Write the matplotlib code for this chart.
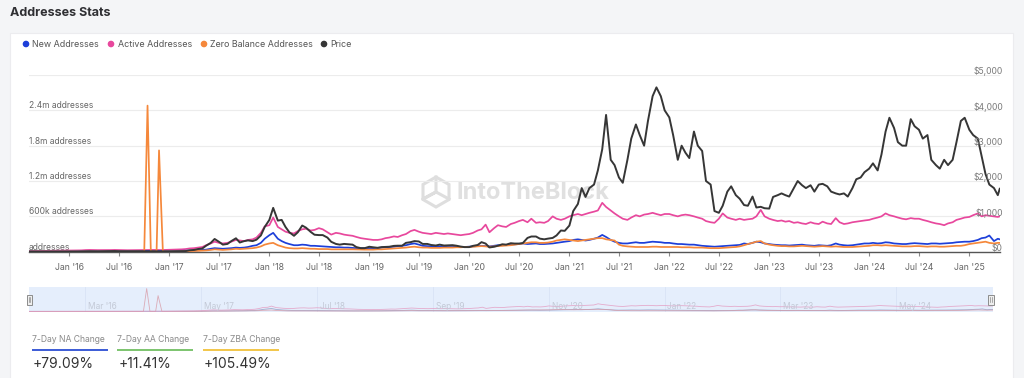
import matplotlib
matplotlib.use("Agg")
import matplotlib.pyplot as plt
import matplotlib.transforms as mtransforms
from matplotlib.patches import Rectangle, Circle, RegularPolygon
import pandas as pd

plt.rcParams['font.family'] = ['Inter', 'DejaVu Sans']

# semi-monthly samples (1st and 15th) from Aug 2015 to Apr 2025, plus the last day shown
dates = list(pd.date_range('2015-08-01', '2025-04-15', freq='SMS')) + [pd.Timestamp('2025-04-22')]

# ETH price, USD (right axis)
price_usd = [
    2.8, 1.4, 1.2, 0.9, 0.7, 0.6, 0.9, 1.0, 0.9, 0.9,  # 2015
    0.95, 1.3, 2.3, 4.5, 7.5, 11, 8, 8, 10, 13, 14, 18, 12, 11, 10, 11, 12, 13, 12, 11, 10, 10, 8, 8,
    8, 10, 11, 12, 17, 40, 50, 75, 90, 170, 250, 360, 280, 200, 220, 300, 380, 260, 300, 320, 300, 340, 460, 700,
    900, 1240, 880, 900, 700, 550, 450, 550, 740, 680, 560, 480, 470, 470, 400, 280, 220, 200, 220, 210, 200, 130, 100, 100,
    140, 125, 110, 130, 135, 140, 165, 170, 170, 250, 270, 300, 290, 220, 220, 190, 175, 200, 175, 180, 185, 170, 145, 130,
    130, 165, 190, 270, 230, 120, 140, 170, 210, 200, 240, 230, 230, 245, 390, 430, 430, 370, 350, 370, 390, 460, 600, 590,
    740, 1150, 1350, 1800, 1550, 1800, 1900, 2300, 2900, 3870, 2600, 2450, 2100, 1950, 2600, 3200, 3600, 3300, 3000, 3700, 4400, 4650, 4400, 4000,
    3800, 3300, 2600, 3000, 2800, 2650, 3400, 3000, 2850, 2000, 1900, 1150, 1100, 1300, 1700, 1850, 1600, 1500, 1320, 1300, 1560, 1250, 1270, 1230,
    1220, 1550, 1600, 1650, 1600, 1560, 1800, 2000, 1880, 1800, 1880, 1700, 1900, 1920, 1850, 1700, 1650, 1620, 1650, 1560, 1800, 2050, 2100, 2250,
    2350, 2500, 2300, 2750, 3400, 3790, 3500, 3100, 3000, 3000, 3750, 3550, 3450, 3200, 3300, 2600, 2450, 2350, 2600, 2450, 2600, 3100, 3700, 3790,
    3450, 3300, 3200, 2700, 2200, 1900, 1800, 1600, 1780,
]

# active addresses, thousands
active_k = [
    10, 12, 12, 13, 14, 14, 15, 15, 16, 17,
    18, 19, 21, 23, 28, 30, 28, 27, 27, 28, 28, 30, 28, 26, 25, 26, 27, 28, 30, 32, 30, 30, 28, 30,
    32, 35, 38, 40, 45, 55, 60, 70, 80, 110, 140, 170, 150, 140, 150, 170, 200, 190, 180, 200, 210, 240, 320, 430,
    450, 580, 420, 380, 340, 320, 310, 350, 380, 390, 360, 370, 400, 380, 330, 290, 320, 310, 290, 280, 270, 250, 230, 220,
    210, 200, 200, 210, 230, 240, 260, 250, 280, 300, 350, 370, 340, 320, 310, 300, 320, 310, 300, 310, 300, 290, 280, 290,
    300, 320, 360, 380, 460, 330, 400, 450, 430, 420, 470, 490, 520, 540, 500, 560, 490, 500, 490, 520, 600, 560, 540, 560,
    600, 620, 640, 620, 640, 660, 680, 700, 830, 760, 700, 650, 600, 560, 540, 580, 620, 600, 630, 640, 660, 640, 620, 640,
    640, 620, 600, 620, 630, 620, 600, 580, 560, 520, 500, 490, 560, 650, 580, 560, 540, 560, 540, 550, 560, 600, 710, 600,
    560, 540, 520, 530, 510, 520, 490, 500, 480, 470, 500, 480, 470, 510, 480, 470, 570, 500, 470, 480, 500, 510, 520, 530,
    540, 560, 580, 600, 650, 620, 600, 580, 560, 550, 570, 560, 560, 540, 520, 500, 480, 470, 450, 480, 500, 540, 560, 580,
    590, 620, 650, 600, 620, 610, 600, 590, 600,
]

# new addresses, thousands
new_k = [
    5, 4, 4, 4, 4, 4, 4, 4, 4, 5,
    5, 6, 7, 8, 10, 12, 10, 9, 9, 9, 9, 10, 9, 8, 8, 8, 9, 9, 10, 11, 10, 10, 9, 10,
    10, 11, 12, 13, 15, 18, 20, 22, 28, 35, 50, 60, 55, 50, 55, 60, 70, 65, 70, 80, 100, 110, 150, 220,
    280, 320, 220, 180, 150, 130, 110, 110, 120, 115, 100, 100, 95, 90, 85, 80, 75, 75, 70, 70, 65, 60, 60, 60,
    60, 60, 65, 70, 75, 80, 85, 95, 100, 110, 130, 140, 120, 100, 95, 90, 90, 90, 85, 80, 80, 85, 80, 80,
    85, 90, 95, 100, 95, 90, 100, 110, 110, 115, 120, 125, 130, 140, 130, 135, 140, 130, 130, 135, 140, 150, 160, 170,
    180, 200, 210, 200, 190, 200, 220, 240, 285, 250, 200, 170, 150, 140, 140, 150, 160, 150, 150, 160, 170, 165, 160, 150,
    150, 140, 130, 130, 125, 120, 120, 110, 100, 95, 90, 85, 90, 95, 100, 105, 110, 115, 140, 130, 150, 170, 160, 140,
    130, 120, 115, 110, 110, 105, 110, 115, 120, 110, 105, 100, 110, 105, 100, 110, 140, 120, 110, 105, 110, 120, 130, 140,
    140, 150, 140, 145, 160, 155, 140, 135, 130, 130, 140, 145, 140, 135, 130, 140, 140, 135, 140, 145, 150, 160, 165, 170,
    170, 180, 200, 230, 240, 275, 180, 220, 210,
]

# zero balance addresses, thousands
zero_k = [
    3, 3, 3, 3, 3, 3, 3, 3, 3, 3,
    3, 3, 4, 4, 5, 5, 5, 5, 5, 5, 5, 5, 5, 5, 5, 5, 5, 5, 5, 5, 5, 5, 5, 5,
    5, 6, 6, 7, 8, 10, 12, 14, 18, 22, 30, 40, 35, 30, 35, 40, 50, 45, 50, 55, 60, 70, 90, 120,
    140, 150, 110, 90, 70, 60, 55, 55, 60, 55, 50, 50, 45, 45, 45, 40, 40, 40, 40, 40, 40, 38, 35, 35,
    35, 35, 40, 40, 45, 50, 55, 60, 65, 70, 80, 85, 75, 70, 70, 65, 65, 65, 70, 70, 70, 75, 75, 80,
    80, 85, 90, 95, 90, 85, 90, 95, 100, 105, 110, 120, 130, 140, 150, 160, 160, 150, 150, 155, 170, 190, 200, 210,
    200, 190, 180, 190, 200, 210, 220, 230, 230, 210, 200, 190, 120, 100, 90, 85, 80, 80, 80, 80, 85, 85, 80, 80,
    80, 80, 80, 75, 75, 75, 70, 70, 70, 65, 60, 60, 60, 65, 70, 75, 80, 90, 110, 130, 150, 170, 180, 140,
    120, 110, 100, 95, 95, 90, 90, 95, 100, 95, 90, 85, 90, 95, 90, 85, 90, 85, 80, 80, 80, 85, 90, 95,
    100, 110, 110, 105, 110, 105, 100, 95, 90, 90, 90, 95, 95, 90, 85, 90, 90, 85, 85, 90, 95, 100, 100, 110,
    130, 140, 150, 160, 170, 150, 140, 150, 150,
]

# the two narrow zero-balance spikes of late 2016
zero_spike_dates = ['2016-10-01', '2016-10-13', '2016-10-25', '2016-11-15', '2016-11-24', '2016-12-08']
zero_spike_k = [5, 2480, 5, 5, 1720, 5]

left_ticks = [0, 600, 1200, 1800, 2400]
left_labels = ['addresses', '600k addresses', '1.2m addresses', '1.8m addresses', '2.4m addresses']
right_ticks = [0, 1000, 2000, 3000, 4000, 5000]
right_labels = ['$0', '$1,000', '$2,000', '$3,000', '$4,000', '$5,000']
x_tick_dates = pd.date_range('2016-01-01', '2025-01-01', freq='6MS')
nav_tick_dates = pd.date_range('2016-03-01', '2024-05-01', freq='14MS')

stat_names = ['7-Day NA Change', '7-Day AA Change', '7-Day ZBA Change']
stat_values = ['+79.09%', '+11.41%', '+105.49%']
stat_colors = ['#3b5bd6', '#7cc46e', '#f2c64a']

c_new, c_act, c_zero, c_price = '#1d3fd9', '#e8489d', '#f5883b', '#363636'

# merge the spikes into the zero-balance series
zb = pd.Series(zero_k, index=dates)
sp = pd.Series(zero_spike_k, index=pd.to_datetime(zero_spike_dates))
zb = zb[(zb.index < sp.index.min()) | (zb.index > sp.index.max())]
zb = pd.concat([zb, sp]).sort_index()

W, H = 1024, 378
fig = plt.figure(figsize=(W / 100, H / 100), dpi=100)
fig.patch.set_facecolor('#f4f5f7')

def frame(x0, y0, x1, y1):
    return [x0 / W, 1 - y1 / H, (x1 - x0) / W, (y1 - y0) / H]

# background layer in pixel coordinates
bg = fig.add_axes([0, 0, 1, 1], zorder=0)
bg.set_xlim(0, W)
bg.set_ylim(H, 0)
bg.axis('off')
bg.add_patch(Rectangle((10, 33), 1003, 350, facecolor='white', edgecolor='#ececef', lw=0.8))
bg.text(10, 13, 'Addresses Stats', fontsize=9, fontweight='bold', color='#2f2f33', va='center')

legend_items = [('New Addresses', c_new, 26), ('Active Addresses', c_act, 111),
                ('Zero Balance Addresses', c_zero, 204), ('Price', c_price, 324)]
for name, col, x in legend_items:
    bg.add_patch(Circle((x, 44), 2.6, color=col))
    bg.text(x + 6.5, 44.5, name, fontsize=6.4, color='#555555', va='center')

# watermark
bg.add_patch(RegularPolygon((436, 192), 6, radius=15, orientation=0, fill=False, ec='#dedede', lw=2.2))
bg.plot([436, 436, 423, 436, 449], [177, 192, 199, 192, 199], color='#dedede', lw=2.2)
bg.text(456, 193, 'IntoTheBlock', fontsize=17, fontweight='bold', color='#e0e0e0', va='center')

for i, (name, val, col) in enumerate(zip(stat_names, stat_values, stat_colors)):
    x = 32 + i * 85.3
    bg.text(x, 340, name, fontsize=6.2, color='#8a8a8a', va='center')
    bg.plot([x, x + 76], [350, 350], color=col, lw=1.4, solid_capstyle='butt')
    bg.text(x + 1, 364.5, val, fontsize=10, color='#333333', va='center')

# main chart
ax = fig.add_axes(frame(29, 75, 1000, 251.7), zorder=2)
ax.set_facecolor('none')
ax.plot(dates, new_k, color=c_new, lw=1.25, zorder=3)
ax.plot(zb.index, zb.values, color=c_zero, lw=1.25, zorder=4)
ax.plot(dates, active_k, color=c_act, lw=1.25, zorder=2)
ax.set_ylim(0, 3000)
ax.set_xlim(pd.Timestamp('2015-08-07'), pd.Timestamp('2025-04-23'))
ax.set_yticks(left_ticks + [3000])
ax.grid(axis='y', color='#ececec', lw=0.8)
ax.set_axisbelow(True)
for s in ['top', 'left', 'right']:
    ax.spines[s].set_visible(False)
ax.spines['bottom'].set_color('#555555')
ax.spines['bottom'].set_linewidth(1.0)
ax.set_xticks(x_tick_dates)
ax.set_xticklabels([d.strftime("%b '%y") for d in x_tick_dates])
ax.tick_params(axis='x', length=3, width=0.8, color='#8a8a8a', labelsize=6.3, labelcolor='#666666', pad=5)

lt = mtransforms.offset_copy(mtransforms.blended_transform_factory(ax.transAxes, ax.transData),
                             fig, y=4.5, units='dots')
for v, lab in zip(left_ticks, left_labels):
    ax.text(0, v, lab, transform=lt, fontsize=6.1, color='#666666', va='center', ha='left', zorder=1)

ax2 = ax.twinx()
ax2.set_zorder(3)
ax2.plot(dates, price_usd, color=c_price, lw=1.4)
ax2.set_ylim(0, 5000)
ax2.set_yticks([])
for s in ax2.spines.values():
    s.set_visible(False)
# twinx turns the left ticks back on, so hide them afterwards
ax.tick_params(axis='y', left=False, right=False, labelleft=False, labelright=False)
rt = mtransforms.offset_copy(mtransforms.blended_transform_factory(ax2.transAxes, ax2.transData),
                             fig, y=3.5, units='dots')
for v, lab in zip(right_ticks, right_labels):
    ax2.text(1.003, v, lab, transform=rt, fontsize=6.2, color='#7a7a7a', va='center', ha='right')

# navigator strip
nav = fig.add_axes(frame(29, 287, 993, 312), zorder=2)
nav.set_facecolor('#e5eefc')
nav.plot(dates, new_k, color='#8e9cc4', lw=0.6, alpha=0.8)
nav.plot(zb.index, zb.values, color='#d89aa6', lw=0.6, alpha=0.8)
nav.plot(dates, active_k, color='#e49ac0', lw=0.6, alpha=0.8)
nav.set_ylim(-60, 2650)
nav.set_xlim(pd.Timestamp('2015-08-07'), pd.Timestamp('2025-04-23'))
nav.set_xticks([])
nav.set_yticks([])
for s in nav.spines.values():
    s.set_visible(False)
for d in nav_tick_dates:
    nav.axvline(d, color='#d9e3f5', lw=0.6, zorder=0)
    nav.text(d + pd.Timedelta(days=10), 0.22, d.strftime("%b '%y"), transform=nav.get_xaxis_transform(),
             fontsize=6, color='#c3c9d6', va='center')

# navigator handles on top
hx = fig.add_axes([0, 0, 1, 1], zorder=4)
hx.set_xlim(0, W)
hx.set_ylim(H, 0)
hx.axis('off')
for x in (26.5, 988):
    hx.add_patch(Rectangle((x, 294.5), 5.5, 10, facecolor='#eeeeee', edgecolor='#8c8c8c', lw=0.7))
    hx.plot([x + 2, x + 2], [297, 302], color='#8c8c8c', lw=0.5)
    hx.plot([x + 3.5, x + 3.5], [297, 302], color='#8c8c8c', lw=0.5)

fig.savefig('out.png', dpi=100, facecolor=fig.get_facecolor())
